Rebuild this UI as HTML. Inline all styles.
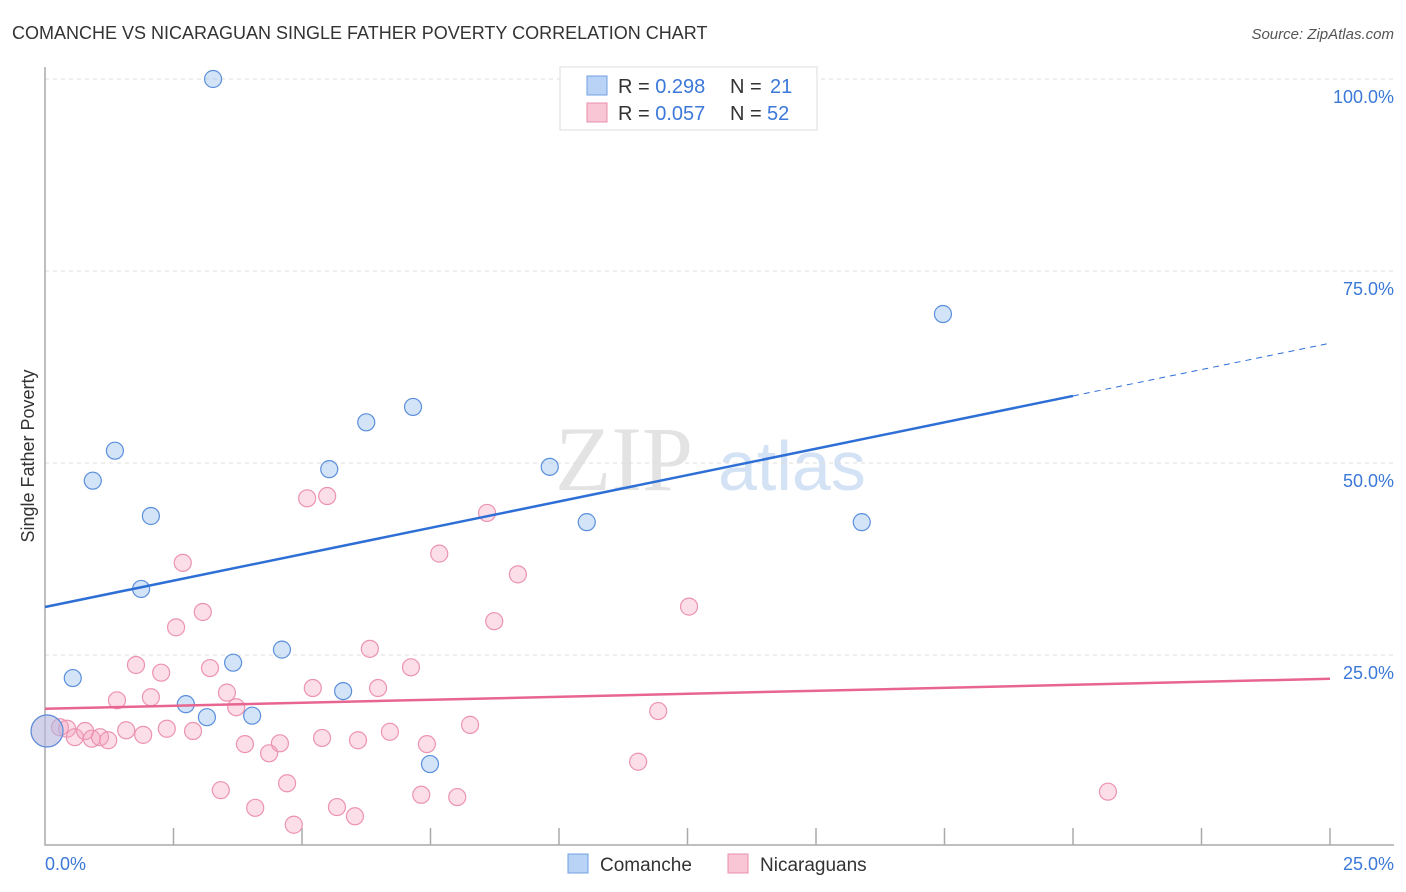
<!DOCTYPE html>
<html><head><meta charset="utf-8"><style>
body{margin:0;background:#fff;font-family:"Liberation Sans",sans-serif}
svg{display:block}
</style></head><body>
<svg id="chart" width="1406" height="892">
<text x="12" y="39" font-size="18" fill="#333">COMANCHE VS NICARAGUAN SINGLE FATHER POVERTY CORRELATION CHART</text>
<text x="1394" y="39" font-size="15" fill="#555" font-style="italic" text-anchor="end">Source: ZipAtlas.com</text>
<g>
<text x="555" y="490" font-size="92" fill="#ddd" font-family="Liberation Serif,serif" opacity="0.8">ZIP</text>
<text x="718" y="490" font-size="70" fill="#c9dbf2" opacity="0.8">atlas</text>
</g>
<g id="grid"></g>
<g id="axes"></g>
<g id="marks"></g>
<text transform="translate(34,456) rotate(-90)" font-size="18" fill="#333" text-anchor="middle">Single Father Poverty</text>
<text x="45" y="870" font-size="18" fill="#3b78d8">0.0%</text>
<text x="1394" y="870" font-size="18" fill="#3b78d8" text-anchor="end">25.0%</text>
<g>
<rect x="560" y="67" width="257" height="63" fill="#fff" stroke="#ddd"/>
<rect x="587" y="76" width="20" height="19" fill="#b8d3f5" stroke="#6f9fe0"/>
<rect x="587" y="103" width="20" height="19" fill="#f9c6d6" stroke="#ea8fac"/>
<text x="618" y="93" font-size="20" fill="#333">R = <tspan fill="#3b78d8">0.298</tspan><tspan x="730">N = </tspan><tspan fill="#3b78d8" x="770">21</tspan></text>
<text x="618" y="120" font-size="20" fill="#333">R = <tspan fill="#3b78d8">0.057</tspan><tspan x="730">N = </tspan><tspan fill="#3b78d8" x="767">52</tspan></text>
</g>
<g>
<rect x="568" y="854" width="20" height="19" fill="#b8d3f5" stroke="#6f9fe0"/>
<text x="600" y="871" font-size="19" fill="#333">Comanche</text>
<rect x="728" y="854" width="20" height="19" fill="#f9c6d6" stroke="#ea8fac"/>
<text x="760" y="871" font-size="19" fill="#333">Nicaraguans</text>
</g>
</svg>
<script>
const yTicks=[25,50,75,100];
const yTickLabels=["25.0%","50.0%","75.0%","100.0%"];
const comancheX=[3.27,17.47,7.16,6.25,1.36,5.53,9.82,0.93,2.06,10.54,15.89,1.87,0.54,3.66,4.61,5.80,2.74,3.15,4.03,7.49,0.04];
const comancheY=[100,69.4,57.3,55.3,51.6,49.2,49.5,47.7,43.1,42.3,42.3,33.6,22.0,24.0,25.7,20.3,18.6,16.9,17.1,10.8,15.1];
const nicX=[0.04,0.29,0.43,0.58,0.78,0.91,1.07,1.23,1.40,1.58,1.77,1.91,2.06,2.26,2.37,2.55,2.68,2.88,3.07,3.21,3.42,3.54,3.72,3.89,4.09,4.36,4.57,4.71,4.84,5.10,5.21,5.39,5.49,5.68,6.03,6.09,6.32,6.48,6.71,7.12,7.32,7.43,7.67,8.02,8.27,8.60,8.74,9.20,11.54,11.93,12.53,20.68];
const nicY=[15.1,15.6,15.4,14.3,15.1,14.1,14.3,13.9,19.1,15.2,23.7,14.6,19.5,22.7,15.4,28.6,37.0,15.1,30.6,23.3,7.4,20.1,18.2,13.4,5.1,12.2,13.5,8.3,2.9,45.4,20.7,14.2,45.7,5.2,4.0,13.9,25.8,20.7,15.0,23.4,6.8,13.4,38.2,6.5,15.9,43.5,29.4,35.5,11.1,17.7,31.3,7.2];
const comancheTrend=[31.25,65.6];
const nicTrend=[18.0,21.9];
const xs=v=>45+v/25*1285;
const ys=v=>847-v*7.68;
const NS="http://www.w3.org/2000/svg";
function mk(tag,attrs,parent){const e=document.createElementNS(NS,tag);for(const k in attrs)e.setAttribute(k,attrs[k]);parent.appendChild(e);return e;}
const grid=document.getElementById('grid'),axes=document.getElementById('axes'),marks=document.getElementById('marks');
yTicks.forEach((t,i)=>{
 const l=mk('line',{x1:45,x2:1394,y1:ys(t),y2:ys(t),stroke:'#ddd','stroke-dasharray':'4,4'},grid);
 
 
 const tx=mk('text',{x:1394,y:ys(t)+24,'font-size':18,fill:'#3b78d8','text-anchor':'end'},grid);
 tx.textContent=yTickLabels[i];
 
 
});
const ax=mk('path',{d:'M45,67V845H1394',fill:'none',stroke:'#aaa','stroke-width':1.5},axes);


for(let i=1;i<=10;i++){
 const t=mk('line',{x1:xs(i*2.5),x2:xs(i*2.5),y1:828,y2:845,stroke:'#aaa','stroke-width':1.5},axes);
 
 
}
function dot(x,y,r,fill,stroke,name){
 const c=mk('circle',{cx:xs(x),cy:ys(y),r:r,fill:fill,stroke:stroke,'stroke-width':1.2},marks);
 
 
}
nicX.forEach((x,i)=>dot(x,nicY[i],i===0?16:8.5,'rgba(244,160,188,0.35)','#ec93b0','nicaraguan-point'));
comancheX.forEach((x,i)=>dot(x,comancheY[i],i===20?16:8.5,'rgba(160,195,240,0.45)','#5a8fdc','comanche-point'));
const solidEnd=20;
const cAt=x=>comancheTrend[0]+(comancheTrend[1]-comancheTrend[0])*x/25;
const t1=mk('line',{x1:xs(0),y1:ys(cAt(0)),x2:xs(solidEnd),y2:ys(cAt(solidEnd)),stroke:'#2e6fd6','stroke-width':2.5},marks);


const t2=mk('line',{x1:xs(solidEnd),y1:ys(cAt(solidEnd)),x2:xs(25),y2:ys(cAt(25)),stroke:'#2e6fd6','stroke-width':1,'stroke-dasharray':'6,5'},marks);


const t3=mk('line',{x1:xs(0),y1:ys(nicTrend[0]),x2:xs(25),y2:ys(nicTrend[1]),stroke:'#e8658f','stroke-width':2.5},marks);


</script>
</body></html>
